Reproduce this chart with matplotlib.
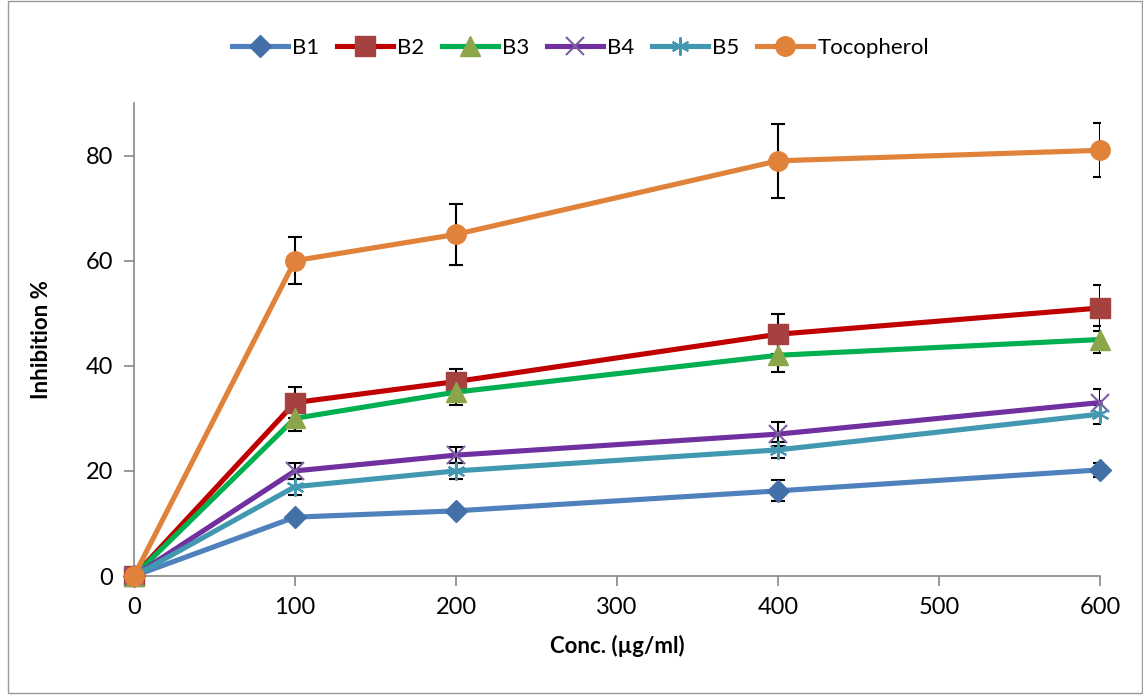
import numpy as np
import matplotlib.pyplot as plt
from matplotlib.patches import Rectangle

plt.rcParams['font.family'] = ['Lato', 'DejaVu Sans']

conc = [0, 100, 200, 400, 600]

names = ['B1', 'B2', 'B3', 'B4', 'B5', 'Tocopherol']
b1 = [0, 11.2, 12.4, 16.2, 20.2]
b2 = [0, 33, 37, 46, 51]
b3 = [0, 30, 35, 42, 45]
b4 = [0, 20, 23, 27, 33]
b5 = [0, 17, 20, 24, 30.8]
toco = [0, 60, 65, 79, 81]

b1_err = [0, 0.5, 0.5, 2.0, 1.3]
b2_err = [0, 2.9, 2.4, 3.8, 4.3]
b3_err = [0, 2.5, 2.5, 3.1, 2.5]
b4_err = [0, 1.5, 1.5, 2.3, 2.5]
b5_err = [0, 1.5, 1.5, 1.5, 1.8]
toco_err = [0, 4.5, 5.8, 7.0, 5.1]

series = [b1, b2, b3, b4, b5, toco]
errors = [b1_err, b2_err, b3_err, b4_err, b5_err, toco_err]

line_cols = ['#4F81BD', '#C00000', '#00B050', '#7030A0', '#4298B0', '#E0823A']
mark_cols = ['#4470A8', '#A5413F', '#8BA64A', '#7A5DA0', '#4298B0', '#E0823A']
markers = ['D', 's', '^', 'x', '*', 'o']
msizes = [11, 14, 14, 13, 13, 14]

fig = plt.figure(figsize=(11.43, 6.95), dpi=100)
ax = fig.add_axes([0.1172, 0.1712, 0.8452, 0.6806])

for y, e, name, lc, mc, m, ms in zip(series, errors, names, line_cols, mark_cols, markers, msizes):
    ax.errorbar(conc, y, yerr=e, fmt='none', ecolor='black', elinewidth=1.5,
                capsize=5, capthick=1.5, zorder=2)
    if m in ('x', '*'):
        ax.plot(conc, y, color=lc, lw=3.7, marker='x' if m == 'x' else (6, 2, 0),
                ms=ms, mec=mc, mew=1.5, label=name, zorder=3, clip_on=False)
    else:
        ax.plot(conc, y, color=lc, lw=3.7, marker=m, ms=ms, mfc=mc, mec=mc,
                label=name, zorder=3, clip_on=False)

ax.set_xlim(0, 600)
ax.set_ylim(0, 90)
ax.set_xticks(np.arange(0, 601, 100))
ax.set_yticks([0, 20, 40, 60, 80])
ax.tick_params(axis='both', labelsize=17, color='#888888', length=7, width=1.2)
ax.tick_params(axis='x', pad=8)
ax.tick_params(axis='y', pad=8)
for s in ['top', 'right']:
    ax.spines[s].set_visible(False)
for s in ['left', 'bottom']:
    ax.spines[s].set_color('#888888')
    ax.spines[s].set_linewidth(1.2)

ax.set_xlabel('Conc. (µg/ml)', fontsize=16, fontweight='bold', labelpad=12)
ax.set_ylabel('Inhibition %', fontsize=16, fontweight='bold', labelpad=24)

ax.legend(loc='center', bbox_to_anchor=(0.508, 0.931), bbox_transform=fig.transFigure,
          ncol=6, frameon=False, fontsize=16, handlelength=2.5, handletextpad=0.2,
          columnspacing=0.8)

fig.patches.append(Rectangle((0.007, 0.003), 0.992, 0.995, transform=fig.transFigure,
                             fill=False, edgecolor='#999999', lw=1))

fig.savefig('out.png', dpi=100)
